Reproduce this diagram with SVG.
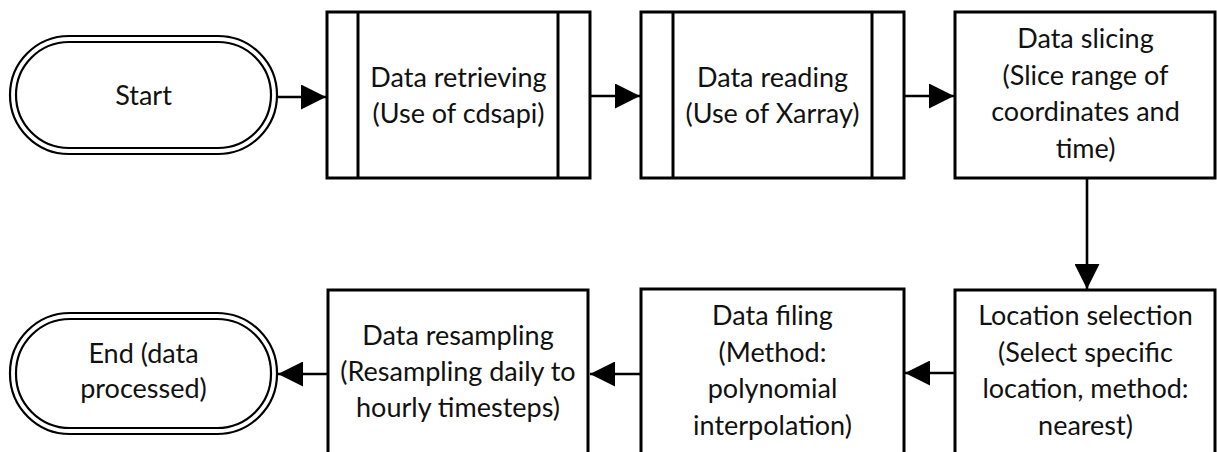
<svg xmlns="http://www.w3.org/2000/svg" width="1217" height="452" viewBox="0 0 1217 452">
  <style>
    .box { fill: #fff; stroke: #000; stroke-width: 3; }
    .bar { fill: none; stroke: #000; stroke-width: 3; }
    .term { fill: #fff; stroke: #000; stroke-width: 2.2; }
    .lbl { font-family: Lato, "Liberation Sans", sans-serif; font-size: 27px; fill: #111; text-anchor: middle; }
    .link { fill: none; stroke: #000; stroke-width: 2.6; }
  </style>
  <defs>
    <marker id="head" viewBox="0 0 25 25" refX="25" refY="12.5" markerWidth="25" markerHeight="25" markerUnits="userSpaceOnUse" orient="auto">
      <path d="M0,0 L25,12.5 L0,25 Z" fill="#000"/>
    </marker>
  </defs>
  <rect width="1217" height="452" fill="#fff"/>

  <g id="start">
    <rect class="term" x="10" y="36" width="267" height="118" rx="59" ry="59"/>
    <rect class="term" x="16" y="42" width="255" height="106" rx="53" ry="53"/>
    <text class="lbl" x="143.5" y="105">Start</text>
  </g>

  <g id="retrieve">
    <rect class="box" x="327" y="12" width="263" height="166"/>
    <line class="bar" x1="358" y1="12" x2="358" y2="178"/>
    <line class="bar" x1="558" y1="12" x2="558" y2="178"/>
    <text class="lbl" x="458.5" y="87">Data retrieving</text>
    <text class="lbl" x="458.5" y="123">(Use of cdsapi)</text>
  </g>

  <g id="read">
    <rect class="box" x="641" y="12" width="263" height="166"/>
    <line class="bar" x1="673" y1="12" x2="673" y2="178"/>
    <line class="bar" x1="872" y1="12" x2="872" y2="178"/>
    <text class="lbl" x="772.5" y="87">Data reading</text>
    <text class="lbl" x="772.5" y="123">(Use of Xarray)</text>
  </g>

  <g id="slice">
    <rect class="box" x="955" y="12" width="260" height="166"/>
    <text class="lbl" x="1085.5" y="48">Data slicing</text>
    <text class="lbl" x="1085.5" y="84.5">(Slice range of</text>
    <text class="lbl" x="1085.5" y="121">coordinates and</text>
    <text class="lbl" x="1085.5" y="158">time)</text>
  </g>

  <g id="locate">
    <rect class="box" x="955" y="290" width="260" height="170"/>
    <text class="lbl" x="1085.5" y="325">Location selection</text>
    <text class="lbl" x="1085.5" y="362">(Select specific</text>
    <text class="lbl" x="1085.5" y="398">location, method:</text>
    <text class="lbl" x="1085.5" y="435">nearest)</text>
  </g>

  <g id="fill">
    <rect class="box" x="641" y="289" width="263" height="170"/>
    <text class="lbl" x="772.5" y="325">Data filing</text>
    <text class="lbl" x="772.5" y="362">(Method:</text>
    <text class="lbl" x="772.5" y="398">polynomial</text>
    <text class="lbl" x="772.5" y="435">interpolation)</text>
  </g>

  <g id="resample">
    <rect class="box" x="328" y="290" width="260" height="170"/>
    <text class="lbl" x="458" y="345">Data resampling</text>
    <text class="lbl" x="458" y="381">(Resampling daily to</text>
    <text class="lbl" x="458" y="417">hourly timesteps)</text>
  </g>

  <g id="end">
    <rect class="term" x="10" y="313" width="267" height="121" rx="60" ry="60"/>
    <rect class="term" x="16" y="319" width="255" height="109" rx="54" ry="54"/>
    <text class="lbl" x="143.5" y="363">End (data</text>
    <text class="lbl" x="143.5" y="398">processed)</text>
  </g>

  <g id="connectors">
    <line class="link" x1="277" y1="97" x2="326" y2="97" marker-end="url(#head)"/>
    <line class="link" x1="590" y1="96" x2="640" y2="96" marker-end="url(#head)"/>
    <line class="link" x1="904" y1="96" x2="954" y2="96" marker-end="url(#head)"/>
    <line class="link" x1="1087" y1="178" x2="1087" y2="289" marker-end="url(#head)"/>
    <line class="link" x1="955" y1="373" x2="905" y2="373" marker-end="url(#head)"/>
    <line class="link" x1="641" y1="374" x2="590" y2="374" marker-end="url(#head)"/>
    <line class="link" x1="328" y1="374" x2="278" y2="374" marker-end="url(#head)"/>
  </g>
</svg>
